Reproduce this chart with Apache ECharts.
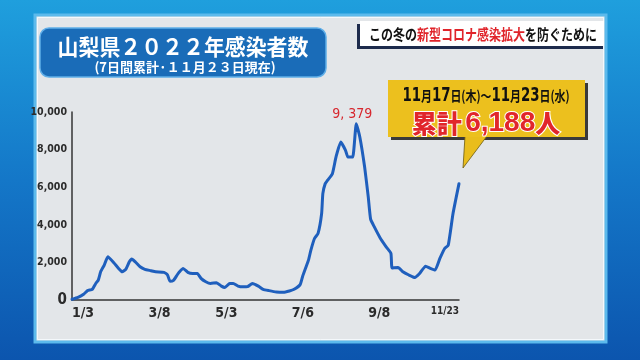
<!DOCTYPE html>
<html><head><meta charset="utf-8">
<script src="https://cdn.jsdelivr.net/npm/echarts@6/dist/echarts.min.js"></script>
<style>html,body{margin:0;padding:0;background:#0e5db5}#c{width:640px;height:360px}</style>
</head><body><div id="c"></div>
<script>
// ---- data ----
const dates = ['1/3','1/8','1/13','1/16','1/20','1/23','1/25','1/27','1/30','2/2','2/7','2/11','2/14','2/17','2/20','2/22','2/25','3/1','3/5','3/10','3/14','3/21','3/24','3/26','3/29','4/1','4/3','4/6','4/10','4/14','4/18','4/21','4/25','4/29','5/4','5/8','5/11','5/15','5/18','5/22','5/26','5/30','6/3','6/8','6/12','6/17','6/23','6/29','7/4','7/8','7/13','7/15','7/18','7/20','7/22','7/25','7/28','7/31','8/1','8/3','8/5','8/9','8/12','8/16','8/20','8/22','8/26','8/29','9/1','9/5','9/8','9/10','9/13','9/18','9/23','9/27','9/28','10/3','10/7','10/12','10/17','10/21','10/26','10/30','11/3','11/7','11/11','11/14','11/18','11/23'];
const cases = [40,140,320,500,570,890,1060,1500,1860,2300,1980,1680,1500,1630,2030,2180,2030,1770,1630,1560,1500,1470,1330,1000,1050,1330,1500,1680,1470,1410,1410,1150,970,880,920,740,670,880,880,740,700,710,880,740,570,500,430,410,480,570,820,1240,1770,2120,2650,3270,3540,4600,5660,6190,6370,6720,7600,8400,7960,7600,7600,9379,8660,7070,5500,4300,3900,3300,2830,2480,1700,1730,1500,1330,1200,1410,1800,1680,1590,2210,2740,2920,4600,6188];
const xTickLabels = ['1/3','3/8','5/3','7/6','9/8','11/23'];
const yTicks = [0,2000,4000,6000,8000,10000];
const titleText = '山梨県２０２２年感染者数';
const subtitleText = '(7日間累計·１１月２３日現在)';
const bannerParts = ['この冬の','新型コロナ感染拡大','を防ぐために'];
const calloutPeriod = ['11','月','17','日(木)～','11','月','23','日(水)'];

// ---- helpers ----
const monthStart = [0,31,59,90,120,151,181,212,243,273,304,334];
function doy(s){const [m,d]=s.split('/').map(Number);return monthStart[m-1]+d;}
const lineData = dates.map((d,i)=>[doy(d),cases[i]]);
const tickDays = xTickLabels.map(doy);
const dayToLabel = {}; tickDays.forEach((d,i)=>dayToLabel[d]=xTickLabels[i]);
const NARROW = '"Liberation Sans Narrow","DejaVu Sans Condensed",sans-serif';
const JP = '"Noto Sans CJK JP",sans-serif';
const last = cases[cases.length-1];
const fmt = v => v.toLocaleString('en-US');

const chart = echarts.init(document.getElementById('c'), null, {renderer:'canvas'});
chart.setOption({
  animation:false,
  backgroundColor:'#0e5db5',
  grid:{left:72,right:181,top:112,bottom:60},
  xAxis:{type:'value',min:tickDays[0],max:tickDays[tickDays.length-1],
    axisLine:{show:true,onZero:false,lineStyle:{color:'#353535',width:1.5}},
    axisTick:{show:false},splitLine:{show:false},
    axisLabel:{customValues:tickDays,align:'left',alignMaxLabel:'right',margin:6,
      color:'#2b2b2b',fontFamily:NARROW,fontWeight:'bold',fontSize:14,
      formatter:v=>{const l=dayToLabel[v]||'';return l===xTickLabels[xTickLabels.length-1]?'{s|'+l+'}':l;},
      rich:{s:{fontSize:10,fontFamily:NARROW,fontWeight:'bold',color:'#2b2b2b'}}}},
  yAxis:{type:'value',min:yTicks[0],max:yTicks[yTicks.length-1],interval:yTicks[1]-yTicks[0],
    axisLine:{show:true,lineStyle:{color:'#353535',width:1.5}},
    axisTick:{show:false},splitLine:{show:false},
    axisLabel:{margin:5,color:'#2b2b2b',fontFamily:NARROW,fontWeight:'bold',fontSize:10.5,
      formatter:v=>v===0?'{z|0}':fmt(v),
      rich:{z:{fontSize:15,fontFamily:NARROW,fontWeight:'bold',color:'#2b2b2b'}}}},
  series:[{type:'line',data:lineData,showSymbol:false,smooth:0.15,z:5,
    lineStyle:{color:'#1f5fbd',width:3,join:'round',cap:'round'},
    markPoint:{symbol:'circle',symbolSize:1,itemStyle:{color:'rgba(0,0,0,0)'},
      data:[{type:'max'}],
      label:{show:true,position:'top',distance:2,offset:[-4,0],color:'#d7262d',fontFamily:NARROW,fontSize:14,
        formatter:p=>fmt(p.value).replace(',',', ')}}}],
  graphic:[
    {type:'rect',z:-20,shape:{x:0,y:0,width:640,height:360},
      style:{fill:new echarts.graphic.LinearGradient(0,0,0,1,[{offset:0,color:'#1f9fdd'},{offset:0.5,color:'#1477c8'},{offset:1,color:'#0c55ae'}])}},
    {type:'rect',z:-19,shape:{x:35,y:15,width:571,height:327},style:{fill:'#e3e6e9',stroke:'#5cbaec',lineWidth:3}},
    {type:'rect',z:-18,shape:{x:37.5,y:17.5,width:566,height:322},style:{fill:'none',stroke:'#f4f8fb',lineWidth:1}},
    // title box
    {type:'rect',z:1,shape:{x:40,y:28,width:286,height:49,r:9},style:{fill:'#1a6cb8',stroke:'#5faee8',lineWidth:1.5}},
    {type:'text',z:2,x:183,y:47,scaleX:0.95,style:{text:titleText,fill:'#fff',font:'bold 22px '+JP,textAlign:'center',textVerticalAlign:'middle'}},
    {type:'text',z:2,x:185,y:67,scaleX:1,style:{text:subtitleText,fill:'#fff',font:'bold 13px '+JP,textAlign:'center',textVerticalAlign:'middle'}},
    // banner
    {type:'rect',z:1,shape:{x:357,y:24,width:246,height:25},style:{fill:'#1d2b4c'}},
    {type:'rect',z:2,shape:{x:360,y:21,width:244,height:25},style:{fill:'#ffffff'}},
    {type:'text',z:3,x:483,y:34,scaleX:0.8,style:{
      text:'{b|'+bannerParts[0]+'}{r|'+bannerParts[1]+'}{b|'+bannerParts[2]+'}',
      textAlign:'center',textVerticalAlign:'middle',
      rich:{b:{fill:'#111',font:'bold 15px '+JP},r:{fill:'#e0242a',font:'bold 15px '+JP}}}},
    // callout
    {type:'rect',z:8,shape:{x:391,y:83,width:197,height:57},style:{fill:'#3a3a3a'}},
    {type:'polygon',z:9,shape:{points:[[465,136],[487,136],[463,168]]},style:{fill:'#e9bd1c',stroke:'#6b5a10',lineWidth:0.8}},
    {type:'rect',z:10,shape:{x:388,y:80,width:197,height:57},style:{fill:'#ecc01e'}},
    {type:'text',z:11,x:486,y:96,scaleX:0.78,style:{
      text:'{n|'+calloutPeriod[0]+'}{k|'+calloutPeriod[1]+'}{n|'+calloutPeriod[2]+'}{k|'+calloutPeriod[3]+'}{n|'+calloutPeriod[4]+'}{k|'+calloutPeriod[5]+'}{n|'+calloutPeriod[6]+'}{k|'+calloutPeriod[7]+'}',
      textAlign:'center',textVerticalAlign:'middle',
      rich:{n:{fill:'#111',font:'bold 19px '+NARROW},k:{fill:'#111',font:'bold 14px '+JP}}}},
    {type:'text',z:11,x:486,y:123,style:{
      text:'{k|累計} {d|'+fmt(last)+'}{k|人}',textAlign:'center',textVerticalAlign:'middle',
      rich:{k:{fill:'#e1262b',font:'900 25px '+JP,stroke:'#fff',lineWidth:2},d:{fill:'#e1262b',font:'bold 28px "Liberation Sans",Arial,sans-serif',stroke:'#fff',lineWidth:2}}}}
  ]
});
</script></body></html>
